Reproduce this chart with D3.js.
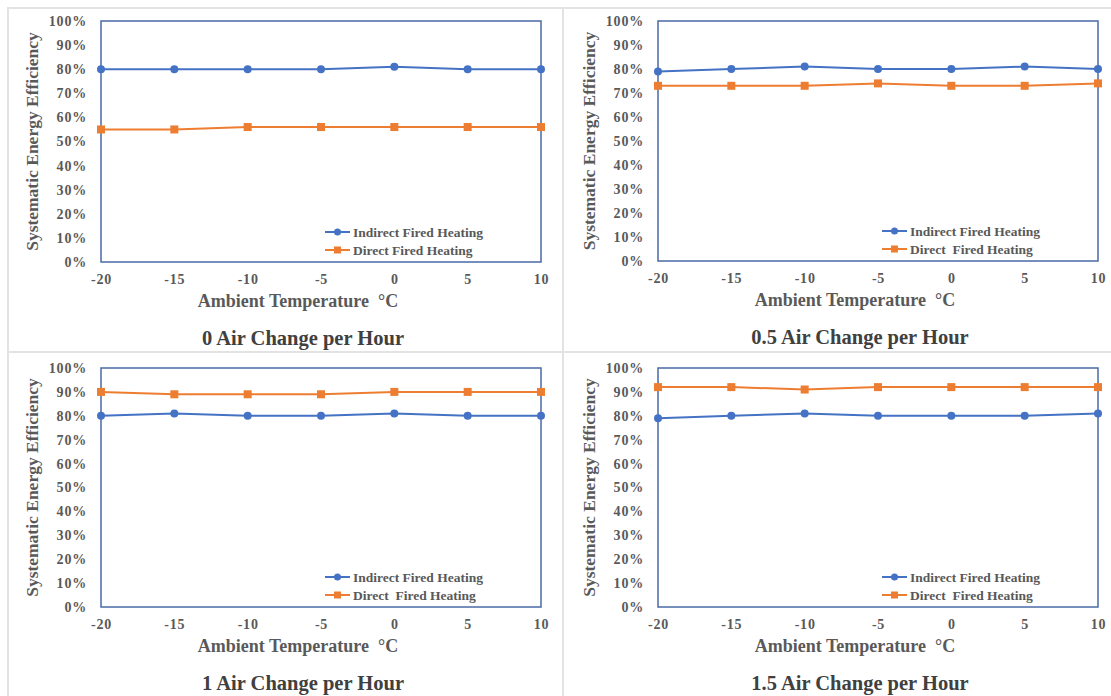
<!DOCTYPE html>
<html>
<head>
<meta charset="utf-8">
<script src="https://cdn.jsdelivr.net/npm/d3@7"></script>
<style>
  body { margin: 0; background: #fff; }
  text { font-family: "Liberation Serif", "Times New Roman", serif; font-weight: bold; fill: #595959; }
</style>
</head>
<body>
<div id="chart"></div>
<script>
// ambient temperatures on the x axis
var temps = [-20, -15, -10, -5, 0, 5, 10];
var yTicks = [0, 0.1, 0.2, 0.3, 0.4, 0.5, 0.6, 0.7, 0.8, 0.9, 1.0];

var titles = [
	"0 Air Change per Hour",
	"0.5 Air Change per Hour",
	"1 Air Change per Hour",
	"1.5 Air Change per Hour"
];

// Indirect fired heating efficiency (%) for each panel
var indirect0 = [80, 80, 80, 80, 81, 80, 80];
var indirect05 = [79, 80, 81, 80, 80, 81, 80];
var indirect1 = [80, 81, 80, 80, 81, 80, 80];
var indirect15 = [79, 80, 81, 80, 80, 80, 81];

// Direct fired heating efficiency (%) for each panel
var direct0 = [55, 55, 56, 56, 56, 56, 56];
var direct05 = [73, 73, 73, 74, 73, 73, 74];
var direct1 = [90, 89, 89, 89, 90, 90, 90];
var direct15 = [92, 92, 91, 92, 92, 92, 92];

var indirectLabels = ["Indirect Fired Heating", "Indirect Fired Heating", "Indirect Fired Heating", "Indirect Fired Heating"];
var directLabels = ["Direct Fired Heating", "Direct  Fired Heating", "Direct  Fired Heating", "Direct  Fired Heating"];

var indirectAll = [indirect0, indirect05, indirect1, indirect15];
var directAll = [direct0, direct05, direct1, direct15];

var blue = "#4472c4";
var orange = "#ed7d31";

var W = 1111, H = 696;

// plot box of each panel (left, top, width, height)
var panels = [
	{x: 101, y: 21, w: 440, h: 241},
	{x: 658, y: 21, w: 440, h: 240},
	{x: 101, y: 368, w: 440, h: 239},
	{x: 658, y: 368, w: 440, h: 239}
];

var svg = d3.select("#chart").append("svg")
	.attr("width", W).attr("height", H);

svg.append("rect").attr("width", W).attr("height", H).attr("fill", "#fff");

// light separators between the panels
var sep = svg.append("g").attr("stroke", "#e3e3e3").attr("stroke-width", 2);
sep.append("line").attr("x1", 7).attr("x2", W).attr("y1", 8).attr("y2", 8);
sep.append("line").attr("x1", 7).attr("x2", W).attr("y1", 352).attr("y2", 352);
sep.append("line").attr("x1", 8).attr("x2", 8).attr("y1", 8).attr("y2", H);
sep.append("line").attr("x1", 563).attr("x2", 563).attr("y1", 8).attr("y2", H);

panels.forEach(function(p, i) {
	var g = svg.append("g").attr("transform", "translate(" + p.x + "," + p.y + ")");

	var x = d3.scaleLinear().domain([-20, 10]).range([0, p.w]);
	var y = d3.scaleLinear().domain([0, 1]).range([p.h, 0]);

	// y axis ticks
	var ya = g.append("g")
		.call(d3.axisLeft(y).tickValues(yTicks).tickSize(0).tickPadding(14).tickFormat(d3.format(".0%")));
	ya.select(".domain").remove();
	ya.selectAll("text").style("font-size", "14px").style("letter-spacing", "0.8px").attr("fill", "#595959");

	var xa = g.append("g")
		.attr("transform", "translate(0," + p.h + ")")
		.call(d3.axisBottom(x).tickValues(temps).tickSize(0).tickPadding(12).tickFormat(function(d) { return d; }));
	xa.select(".domain").remove();
	xa.selectAll("text").style("font-size", "14px").style("letter-spacing", "0.8px").attr("fill", "#595959");

	// plot frame
	g.append("rect")
		.attr("width", p.w).attr("height", p.h)
		.attr("fill", "none").attr("stroke", "#4a6aa5").attr("stroke-width", 1.5);

	// axis titles
	g.append("text")
		.attr("transform", "translate(-63," + (p.h / 2 + 0) + ") rotate(-90)")
		.attr("text-anchor", "middle")
		.style("font-size", "17.5px")
		.text("Systematic Energy Efficiency");

	g.append("text")
		.attr("x", p.w / 2 - 23).attr("y", p.h + 45)
		.attr("text-anchor", "middle")
		.style("font-size", "18px")
		.style("white-space", "pre")
		.text("Ambient Temperature  \u00b0C");

	g.append("text")
		.attr("x", p.w / 2 - 18).attr("y", p.h + 83)
		.attr("text-anchor", "middle")
		.style("font-size", "20.5px")
		.style("fill", "#404040")
		.text(titles[i]);

	var line = d3.line()
		.x(function(d, k) { return x(temps[k]); })
		.y(function(d) { return y(d / 100); });

	// indirect series
	g.append("path").datum(indirectAll[i])
		.attr("fill", "none").attr("stroke", blue).attr("stroke-width", 2)
		.attr("d", line);
	g.selectAll(".dot").data(indirectAll[i]).enter().append("circle")
		.attr("class", "dot")
		.attr("cx", function(d, k) { return x(temps[k]); })
		.attr("cy", function(d) { return y(d / 100); })
		.attr("r", 4).attr("fill", blue);

	// direct series
	g.append("path").datum(directAll[i])
		.attr("fill", "none").attr("stroke", orange).attr("stroke-width", 2)
		.attr("d", line);
	g.selectAll(".sq").data(directAll[i]).enter().append("rect")
		.attr("class", "sq")
		.attr("x", function(d, k) { return x(temps[k]) - 4; })
		.attr("y", function(d) { return y(d / 100) - 4; })
		.attr("width", 8).attr("height", 8).attr("fill", orange);

	// legend
	var lg = g.append("g").attr("transform", "translate(224," + (p.h - 30) + ")");
	lg.append("line").attr("x1", 0).attr("x2", 25).attr("y1", 0).attr("y2", 0)
		.attr("stroke", blue).attr("stroke-width", 2);
	lg.append("circle").attr("cx", 12.5).attr("cy", 0).attr("r", 3.5).attr("fill", blue);
	lg.append("text").attr("x", 28).attr("y", 4.5).style("font-size", "13.5px").text(indirectLabels[i]);

	lg.append("line").attr("x1", 0).attr("x2", 25).attr("y1", 18).attr("y2", 18)
		.attr("stroke", orange).attr("stroke-width", 2);
	lg.append("rect").attr("x", 9).attr("y", 14.5).attr("width", 7).attr("height", 7).attr("fill", orange);
	lg.append("text").attr("x", 28).attr("y", 22.5).style("font-size", "13.5px")
		.style("white-space", "pre").text(directLabels[i]);
});
</script>
</body>
</html>
